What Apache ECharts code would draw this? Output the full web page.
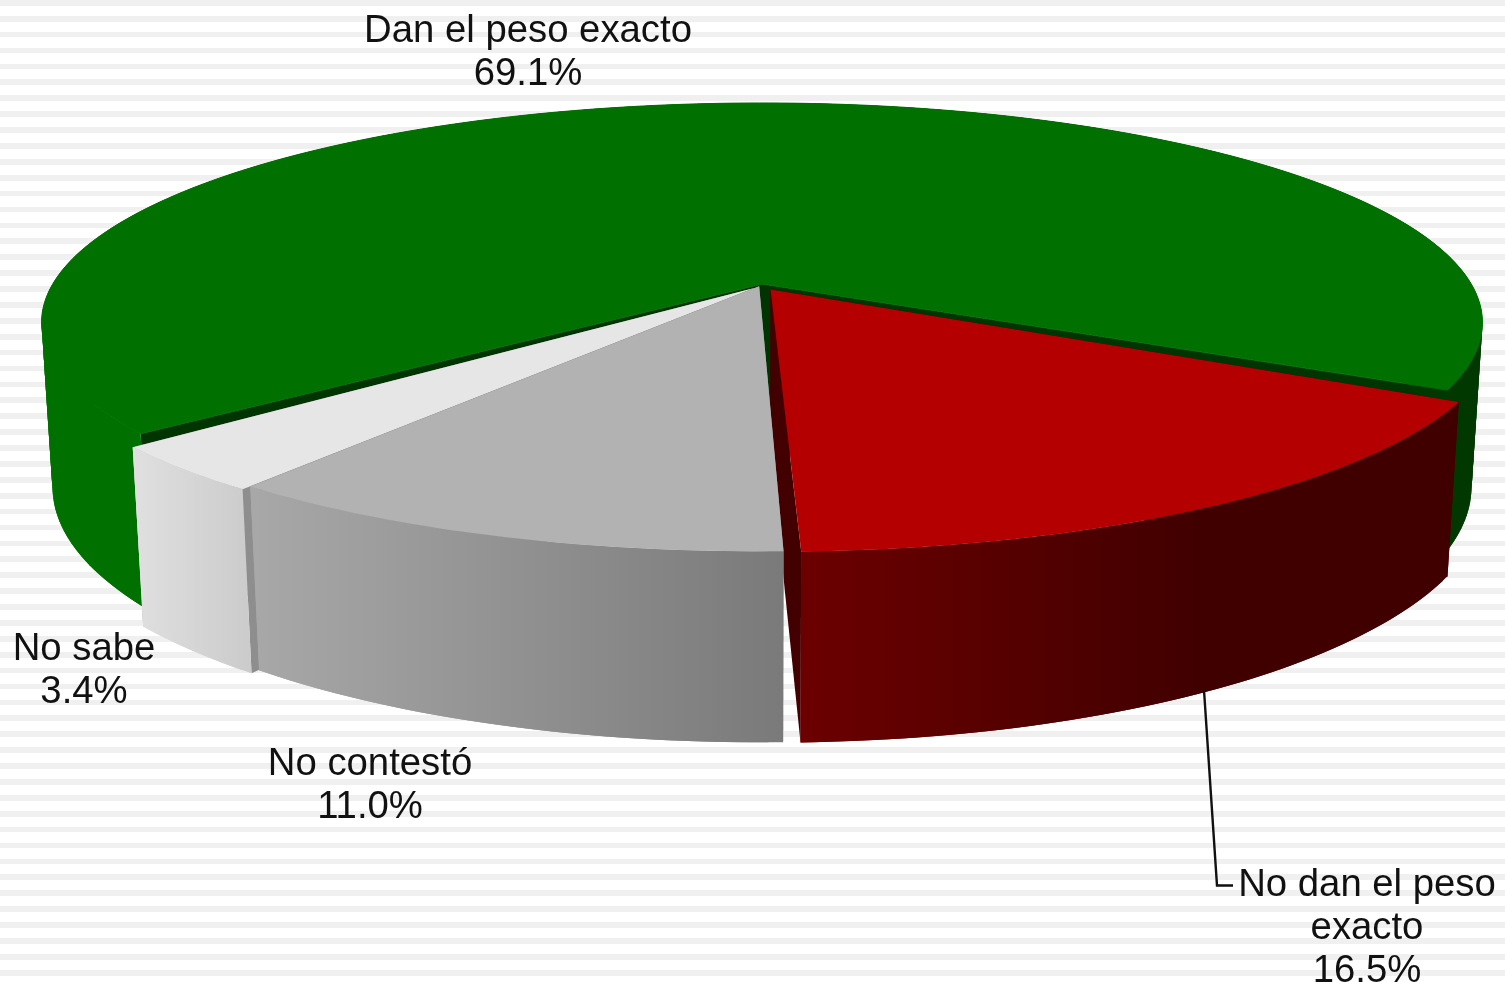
<!DOCTYPE html>
<html><head><meta charset="utf-8">
<style>
html,body{margin:0;padding:0;width:1505px;height:982px;overflow:hidden;background:#fff repeating-linear-gradient(to bottom,#f0f0f0 0,#f0f0f0 5.7px,#fff 5.7px,#fff 15.9px);}
#c{width:1505px;height:982px;}
</style>
<script src="https://cdn.jsdelivr.net/npm/echarts@6/dist/echarts.min.js"></script>
</head><body><div id="c"></div>
<script>
// ---- data ----
const categories = ['Dan el peso exacto', 'No dan el peso exacto', 'No contestó', 'No sabe'];
const values = [69.1, 16.5, 11.0, 3.4];
const labelLines = [['Dan el peso exacto'], ['No dan el peso', 'exacto'], ['No contestó'], ['No sabe']];

// ---- projection of the tilted pie ----
const PROJ = { x0: 762, y0: 287, A: 708.9, B: 216.9, C: 163.6, k: 0.1786, m: 0.015 };
const START_ANGLE = 310.26; // degrees, 0 = front, positive = right; slices run clockwise on screen

// ---- per-slice style and layout ----
const SLICE = [
  { order: 1, dx: 0, dz: -0.014, rx: 1.003, rz: 0.986, padStart: 1.5, padEnd: 1.2, edge: 1, top: '#007000', inner: '#003400',
    walls: [{ split: [0, 0.524], stops: [[0, '#007000'], [1, '#007000']] },
            { split: [0.524, 1], stops: [[0, '#003800'], [1, '#003800']] }] },
  { order: 2, dx: 0.012, dz: 0.012, rx: 1.008, rz: 0.99, padStart: 0, padEnd: -0.2, edge: 0, top: '#b40000', inner: '#420000',
    walls: [{ split: [0, 1], stops: [[0, '#6c0000'], [0.62, '#400000'], [1, '#400000']] }] },
  { order: 4, dx: -0.004, dz: -0.004, rx: 1.005, rz: 1.005, padStart: 0.45, padEnd: -0.3, edge: 0, top: '#b2b2b2', inner: '#8c8c8c',
    walls: [{ split: [0, 1], stops: [[0, '#a8a8a8'], [1, '#7a7a7a']] }] },
  { order: 3, dx: -0.012, dz: 0.006, rx: 1.012, rz: 1, padStart: 0, padEnd: 0, edge: 0, top: '#e6e6e6', inner: '#8e8e8e',
    walls: [{ split: [0, 1], stops: [[0, '#e0e0e0'], [1, '#cbcbcb']] }] }
];
const LABELS = [
  { x: 528, y: 31 }, { x: 1367, y: 885 }, { x: 370, y: 764 }, { x: 84, y: 649 }
];
const LINE_H = 43.2;
const FONT = '38.3px "Liberation Sans", Arial, sans-serif';
const LEADER = [[1204, 690], [1217, 885.5], [1233, 885.5]];

// ---- geometry helpers ----
const RAD = Math.PI / 180;
function project(s, deg, rim, h) {
  const x = rim * s.rx * Math.sin(deg * RAD) + s.dx;
  const z = rim * s.rz * Math.cos(deg * RAD) + s.dz;
  const w = 1 - PROJ.k * z + PROJ.m * h;
  return [PROJ.x0 + PROJ.A * x / w, PROJ.y0 + (PROJ.B * z + PROJ.C * h) / w];
}
function arc(s, from, to, h) {
  const n = Math.max(2, Math.ceil(Math.abs(to - from)));
  const pts = [];
  for (let i = 0; i <= n; i++) pts.push(project(s, from + (to - from) * i / n, 1, h));
  return pts;
}
function poly(points, fill, z2) {
  return { type: 'polygon', z2: z2, shape: { points: points }, style: { fill: fill, stroke: null } };
}
function gradient(stops, xMin, xMax) {
  return new echarts.graphic.LinearGradient(xMin, 0, xMax, 0,
    stops.map(function (p) { return { offset: p[0], color: p[1] }; }), true);
}

const total = values.reduce(function (a, b) { return a + b; }, 0);

function renderSlice(params, api) {
  const i = params.dataIndex;
  const s = SLICE[i];
  let startVal = 0;
  for (let j = 0; j < i; j++) startVal += values[j];
  const a0 = START_ANGLE - startVal / total * 360 - s.padStart;
  const a1 = START_ANGLE - (startVal + api.value(0)) / total * 360 + s.padEnd;
  const base = s.order * 10;
  const kids = [];
  // radial walls: the start-side and end-side faces of the slice
  const apexTop = project(s, 0, 0, 0), apexBot = project(s, 0, 0, 1);
  [a0, a1].forEach(function (a) {
    kids.push(poly([apexTop, project(s, a, 1, 0), project(s, a, 1, 1), apexBot], s.inner, base));
  });
  // outer wall, swept as narrow overlapping quads so the silhouette stays filled without seams
  s.walls.forEach(function (wall) {
    const from = a0 + (a1 - a0) * wall.split[0];
    const to = a0 + (a1 - a0) * wall.split[1];
    const tops = arc(s, from, to, 0), bots = arc(s, from, to, 1);
    const xs = tops.concat(bots).map(function (p) { return p[0]; });
    const fill = gradient(wall.stops, Math.min.apply(null, xs), Math.max.apply(null, xs));
    const last = tops.length - 1;
    for (let n = 0; n < last; n++) {
      const e = Math.min(n + 2, last);
      kids.push(poly([tops[n], tops[e], bots[e], bots[n]], fill, base + 1));
    }
  });
  // top face
  const top = poly([apexTop].concat(arc(s, a0, a1, 0)), s.top, base + 2);
  if (s.edge) { top.style.stroke = s.top; top.style.lineWidth = s.edge; }
  kids.push(top);
  return { type: 'group', children: kids };
}

function renderLabel(params, api) {
  const i = params.dataIndex;
  const lines = labelLines[i].concat([api.value(0).toFixed(1) + '%']);
  const kids = lines.map(function (t, n) {
    return { type: 'text', z2: 100,
      style: { x: LABELS[i].x, y: LABELS[i].y + n * LINE_H, text: t, font: FONT, fill: '#111',
               align: 'center', verticalAlign: 'middle' } };
  });
  if (i === 1) {
    kids.push({ type: 'polyline', z2: 100, shape: { points: LEADER },
      style: { fill: null, stroke: '#111', lineWidth: 2.4 } });
  }
  return { type: 'group', children: kids };
}

const chart = echarts.init(document.getElementById('c'), null, { renderer: 'canvas' });
const seriesData = categories.map(function (c, i) { return { name: c, value: [values[i]] }; });
chart.setOption({
  animation: false,
  backgroundColor: 'transparent',
  series: [
    { type: 'custom', coordinateSystem: 'none', renderItem: renderSlice, data: seriesData, silent: true, z: 2 },
    { type: 'custom', coordinateSystem: 'none', renderItem: renderLabel, data: seriesData, silent: true, z: 3 }
  ]
});
</script></body></html>
